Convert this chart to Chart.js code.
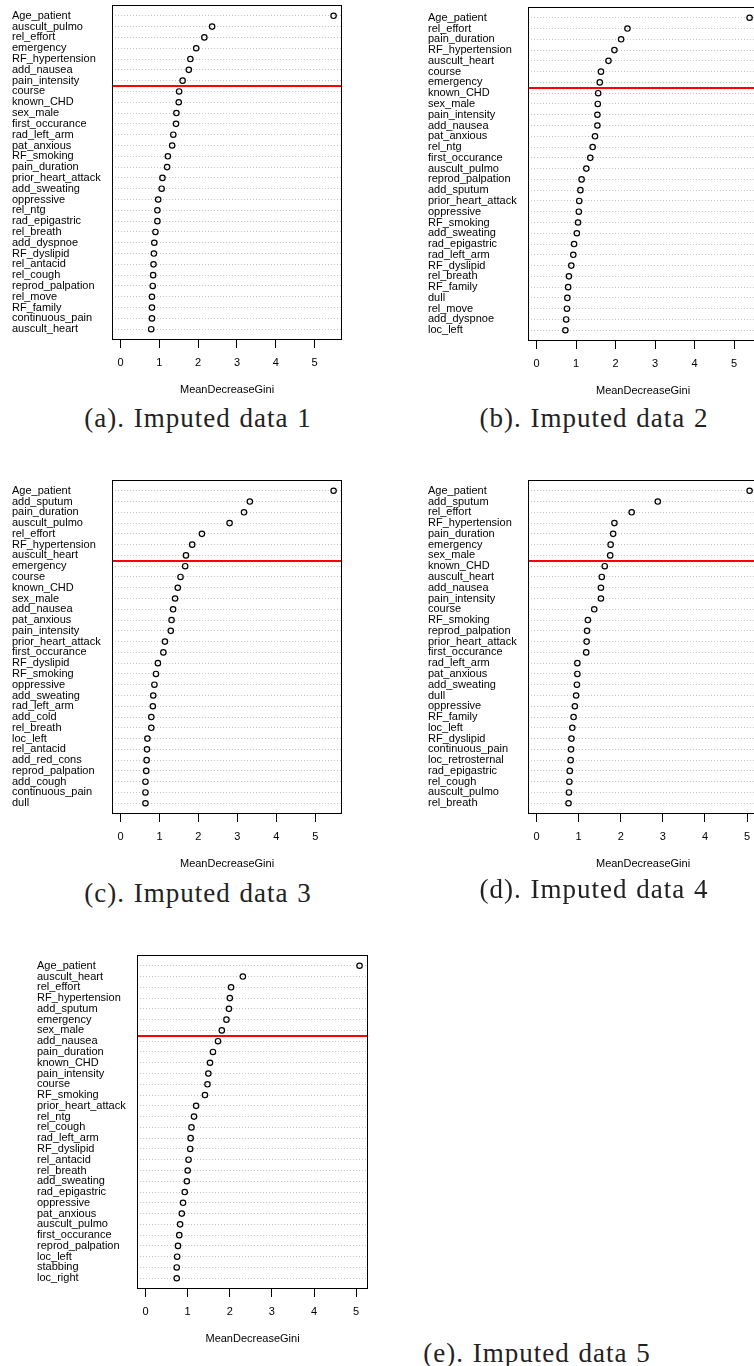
<!DOCTYPE html>
<html>
<head>
<meta charset="utf-8">
<script src="https://cdn.jsdelivr.net/npm/chart.js@4.4.0/dist/chart.umd.min.js"></script>
<style>
  html, body { margin: 0; padding: 0; background: #fff; }
  body { position: relative; width: 754px; height: 1366px; overflow: hidden; }
  canvas { position: absolute; }
  .caption {
    position: absolute;
    font-family: "Liberation Serif", serif;
    font-size: 27px;
    letter-spacing: 1px;
    word-spacing: 1px;
    white-space: nowrap;
    color: #222;
    transform: translate(-50%, -50%);
  }
</style>
</head>
<body>
<script>
// variable importance (MeanDecreaseGini), one list per imputed data set
const namesA = ['Age_patient', 'auscult_pulmo', 'rel_effort', 'emergency', 'RF_hypertension', 'add_nausea',
  'pain_intensity', 'course', 'known_CHD', 'sex_male', 'first_occurance', 'rad_left_arm', 'pat_anxious',
  'RF_smoking', 'pain_duration', 'prior_heart_attack', 'add_sweating', 'oppressive', 'rel_ntg',
  'rad_epigastric', 'rel_breath', 'add_dyspnoe', 'RF_dyslipid', 'rel_antacid', 'rel_cough',
  'reprod_palpation', 'rel_move', 'RF_family', 'continuous_pain', 'auscult_heart'];
const giniA = [5.49, 2.36, 2.16, 1.95, 1.80, 1.76, 1.60, 1.51, 1.50, 1.44, 1.43, 1.36, 1.33, 1.22, 1.20,
  1.08, 1.06, 0.97, 0.95, 0.95, 0.90, 0.87, 0.86, 0.85, 0.84, 0.83, 0.81, 0.81, 0.81, 0.79];

const namesB = ['Age_patient', 'rel_effort', 'pain_duration', 'RF_hypertension', 'auscult_heart', 'course',
  'emergency', 'known_CHD', 'sex_male', 'pain_intensity', 'add_nausea', 'pat_anxious', 'rel_ntg',
  'first_occurance', 'auscult_pulmo', 'reprod_palpation', 'add_sputum', 'prior_heart_attack', 'oppressive',
  'RF_smoking', 'add_sweating', 'rad_epigastric', 'rad_left_arm', 'RF_dyslipid', 'rel_breath', 'RF_family',
  'dull', 'rel_move', 'add_dyspnoe', 'loc_left'];
const giniB = [5.39, 2.30, 2.14, 1.97, 1.82, 1.63, 1.60, 1.56, 1.55, 1.54, 1.54, 1.48, 1.42, 1.36, 1.26,
  1.14, 1.11, 1.08, 1.07, 1.05, 1.02, 0.95, 0.93, 0.88, 0.82, 0.80, 0.78, 0.77, 0.75, 0.73];

const namesC = ['Age_patient', 'add_sputum', 'pain_duration', 'auscult_pulmo', 'rel_effort', 'RF_hypertension',
  'auscult_heart', 'emergency', 'course', 'known_CHD', 'sex_male', 'add_nausea', 'pat_anxious',
  'pain_intensity', 'prior_heart_attack', 'first_occurance', 'RF_dyslipid', 'RF_smoking', 'oppressive',
  'add_sweating', 'rad_left_arm', 'add_cold', 'rel_breath', 'loc_left', 'rel_antacid', 'add_red_cons',
  'reprod_palpation', 'add_cough', 'continuous_pain', 'dull'];
const giniC = [5.47, 3.32, 3.17, 2.80, 2.09, 1.84, 1.68, 1.66, 1.54, 1.47, 1.40, 1.35, 1.31, 1.29, 1.14,
  1.10, 0.96, 0.91, 0.87, 0.84, 0.83, 0.79, 0.79, 0.69, 0.68, 0.67, 0.66, 0.64, 0.64, 0.64];

const namesD = ['Age_patient', 'add_sputum', 'rel_effort', 'RF_hypertension', 'pain_duration', 'emergency',
  'sex_male', 'known_CHD', 'auscult_heart', 'add_nausea', 'pain_intensity', 'course', 'RF_smoking',
  'reprod_palpation', 'prior_heart_attack', 'first_occurance', 'rad_left_arm', 'pat_anxious', 'add_sweating',
  'dull', 'oppressive', 'RF_family', 'loc_left', 'RF_dyslipid', 'continuous_pain', 'loc_retrosternal',
  'rad_epigastric', 'rel_cough', 'auscult_pulmo', 'rel_breath'];
const giniD = [5.06, 2.88, 2.26, 1.85, 1.82, 1.76, 1.75, 1.62, 1.55, 1.53, 1.53, 1.37, 1.22, 1.20, 1.19,
  1.18, 0.97, 0.97, 0.96, 0.94, 0.91, 0.88, 0.85, 0.83, 0.82, 0.81, 0.79, 0.78, 0.77, 0.76];

const namesE = ['Age_patient', 'auscult_heart', 'rel_effort', 'RF_hypertension', 'add_sputum', 'emergency',
  'sex_male', 'add_nausea', 'pain_duration', 'known_CHD', 'pain_intensity', 'course', 'RF_smoking',
  'prior_heart_attack', 'rel_ntg', 'rel_cough', 'rad_left_arm', 'RF_dyslipid', 'rel_antacid', 'rel_breath',
  'add_sweating', 'rad_epigastric', 'oppressive', 'pat_anxious', 'auscult_pulmo', 'first_occurance',
  'reprod_palpation', 'loc_left', 'stabbing', 'loc_right'];
const giniE = [5.08, 2.31, 2.03, 2.00, 1.98, 1.92, 1.81, 1.72, 1.60, 1.53, 1.49, 1.47, 1.41, 1.20, 1.15,
  1.09, 1.07, 1.06, 1.02, 1.00, 0.98, 0.93, 0.89, 0.86, 0.82, 0.80, 0.77, 0.75, 0.74, 0.74];

const xTicks = [0, 1, 2, 3, 4, 5];
const topCount = 7;   // red separator under the top 7 variables
const axisTitle = 'MeanDecreaseGini';

const LABEL_W = 100;  // room for the variable names left of the frame
const PAD_TOP = 15;
const AXIS_H = 60;

const panels = [
  { names: namesA, gini: giniA, caption: '(a). Imputed data 1', box: [112, 5, 234, 335], cap: [198, 418] },
  { names: namesB, gini: giniB, caption: '(b). Imputed data 2', box: [528, 7, 234, 334], cap: [594, 418] },
  { names: namesC, gini: giniC, caption: '(c). Imputed data 3', box: [112, 480, 234, 334], cap: [198, 893] },
  { names: namesD, gini: giniD, caption: '(d). Imputed data 4', box: [528, 480, 234, 334], cap: [594, 889] },
  { names: namesE, gini: giniE, caption: '(e). Imputed data 5', box: [137, 955, 235, 334], cap: [537, 1353] }
];

// frame around the plot region plus the red cut line
const framePlugin = {
  id: 'frame',
  afterDatasetsDraw(chart, args, opts) {
    const { ctx, chartArea: a, scales: { y } } = chart;
    ctx.save();
    const yc = Math.round(y.getPixelForValue(opts.cut + 0.5));
    ctx.strokeStyle = '#ff0000';
    ctx.lineWidth = 2;
    ctx.beginPath();
    ctx.moveTo(a.left, yc);
    ctx.lineTo(a.right, yc);
    ctx.stroke();
    ctx.strokeStyle = '#000';
    ctx.lineWidth = 1;
    ctx.strokeRect(Math.round(a.left) + 0.5, Math.round(a.top) + 0.5,
      Math.round(a.width) - 1, Math.round(a.height) - 1);
    ctx.restore();
  }
};

const sans = { family: '"Liberation Sans", Arial, sans-serif', size: 11 };

panels.forEach(p => {
  const [bx, by, bw, bh] = p.box;
  const canvas = document.createElement('canvas');
  canvas.width = LABEL_W + bw;
  canvas.height = PAD_TOP + bh + AXIS_H;
  canvas.style.left = (bx - LABEL_W) + 'px';
  canvas.style.top = (by - PAD_TOP) + 'px';
  document.body.appendChild(canvas);

  const top = Math.max(...p.gini);
  const names = p.names;

  new Chart(canvas, {
    type: 'scatter',
    data: {
      datasets: [{
        data: p.gini.map((v, i) => ({ x: v, y: i + 1 })),
        pointRadius: 2.7,
        pointHoverRadius: 2.7,
        pointBorderWidth: 1.2,
        pointBorderColor: '#000',
        pointBackgroundColor: 'rgba(0,0,0,0)'
      }]
    },
    options: {
      responsive: false,
      animation: false,
      events: [],
      layout: { padding: { top: PAD_TOP, left: 0, right: 0, bottom: 0 } },
      plugins: {
        legend: { display: false },
        tooltip: { enabled: false },
        frame: { cut: topCount }
      },
      scales: {
        x: {
          type: 'linear',
          min: -0.04 * top,
          max: 1.04 * top,
          afterBuildTicks: s => { s.ticks = xTicks.map(v => ({ value: v })); },
          afterFit: s => { s.height = AXIS_H; },
          grid: { drawOnChartArea: false, drawTicks: true, tickLength: 8, color: '#000', tickColor: '#000' },
          border: { display: false },
          ticks: { font: sans, color: '#000', padding: 8, maxRotation: 0 },
          title: { display: true, text: axisTitle, font: sans, color: '#000', padding: { top: 0, bottom: 3 } }
        },
        y: {
          type: 'linear',
          reverse: true,
          min: 0,
          max: names.length + 1,
          afterBuildTicks: s => { s.ticks = names.map((_, i) => ({ value: i + 1 })); },
          afterFit: s => { s.width = LABEL_W; },
          grid: { drawTicks: false, color: '#c4c4c4', lineWidth: 1 },
          border: { display: false, dash: [1, 2] },
          ticks: {
            autoSkip: false,
            crossAlign: 'far',
            padding: 5,
            font: sans,
            color: '#000',
            callback: v => names[v - 1]
          }
        }
      }
    },
    plugins: [framePlugin]
  });

  const cap = document.createElement('div');
  cap.className = 'caption';
  cap.textContent = p.caption;
  cap.style.left = p.cap[0] + 'px';
  cap.style.top = p.cap[1] + 'px';
  document.body.appendChild(cap);
});
</script>
</body>
</html>
